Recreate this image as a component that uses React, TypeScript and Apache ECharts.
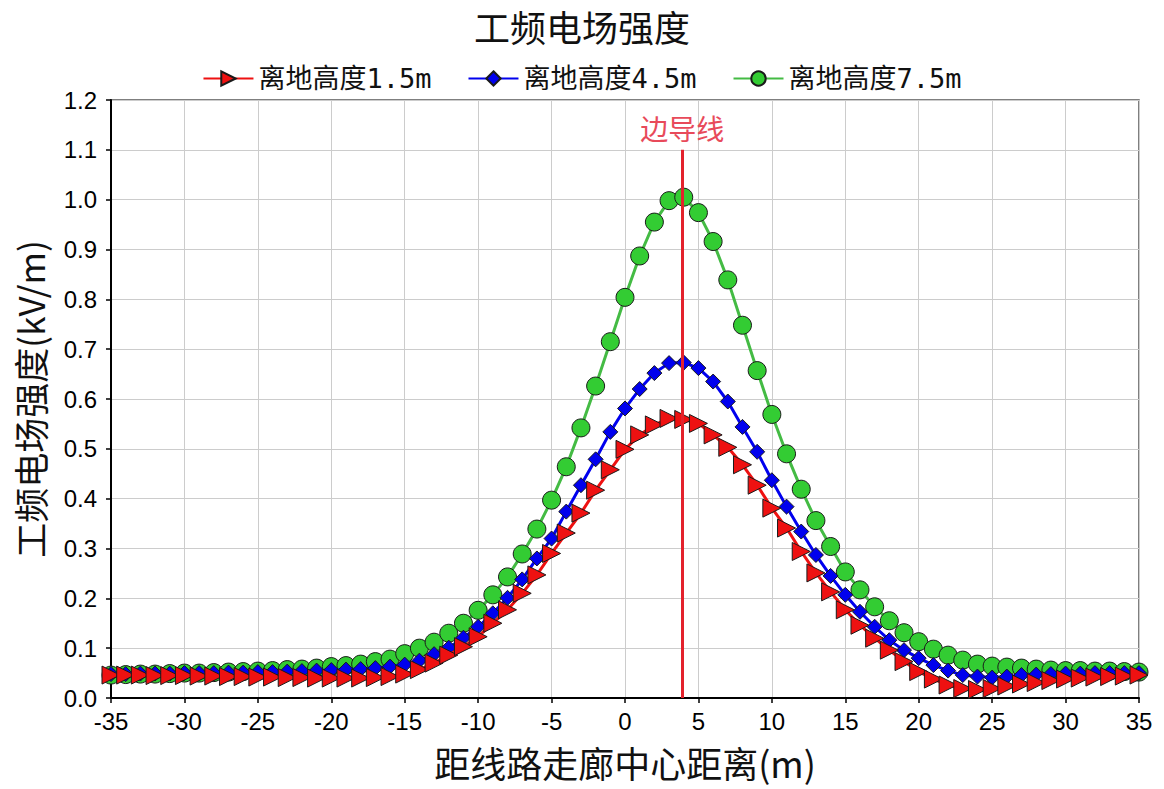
import React, { useEffect, useRef } from "react";
import * as echarts from "echarts";

const distances = [
  -35, -34, -33, -32, -31, -30, -29, -28, -27, -26, -25, -24, -23, -22, -21, -20, -19, -18, -17, -16,
  -15, -14, -13, -12, -11, -10, -9, -8, -7, -6, -5, -4, -3, -2, -1, 0, 1, 2, 3, 4, 5, 6, 7, 8, 9, 10,
  11, 12, 13, 14, 15, 16, 17, 18, 19, 20, 21, 22, 23, 24, 25, 26, 27, 28, 29, 30, 31, 32, 33, 34, 35,
];

const h15 = [
  0.046, 0.046, 0.046, 0.045, 0.045, 0.045, 0.044, 0.044, 0.043, 0.043, 0.042, 0.042, 0.041, 0.041, 0.040, 0.040, 0.040, 0.040, 0.041, 0.043,
  0.048, 0.057, 0.070, 0.086, 0.103, 0.123, 0.150, 0.177, 0.210, 0.247, 0.290, 0.331, 0.371, 0.417, 0.458, 0.499, 0.528, 0.548, 0.561, 0.559, 0.551, 0.528, 0.503, 0.468, 0.427, 0.381,
  0.341, 0.294, 0.251, 0.213, 0.177, 0.146, 0.120, 0.096, 0.073, 0.053, 0.038, 0.026, 0.019, 0.017, 0.019, 0.024, 0.028, 0.031, 0.035, 0.038, 0.040, 0.042, 0.043, 0.044, 0.046,
];

const h45 = [
  0.048, 0.048, 0.049, 0.049, 0.049, 0.050, 0.050, 0.050, 0.051, 0.051, 0.052, 0.052, 0.053, 0.054, 0.055, 0.056, 0.057, 0.058, 0.060, 0.063,
  0.067, 0.075, 0.088, 0.101, 0.121, 0.143, 0.170, 0.201, 0.238, 0.280, 0.320, 0.374, 0.427, 0.479, 0.534, 0.581, 0.620, 0.652, 0.672, 0.673, 0.662, 0.635, 0.595, 0.544, 0.494, 0.437,
  0.384, 0.334, 0.287, 0.245, 0.207, 0.173, 0.143, 0.116, 0.096, 0.080, 0.066, 0.055, 0.046, 0.043, 0.041, 0.043, 0.046, 0.047, 0.048, 0.049, 0.049, 0.050, 0.050, 0.050, 0.050,
];

const h75 = [
  0.046, 0.047, 0.048, 0.048, 0.049, 0.050, 0.050, 0.051, 0.052, 0.053, 0.054, 0.055, 0.057, 0.058, 0.060, 0.063, 0.065, 0.068, 0.073, 0.078,
  0.089, 0.100, 0.112, 0.130, 0.150, 0.176, 0.207, 0.243, 0.289, 0.339, 0.397, 0.464, 0.542, 0.626, 0.715, 0.804, 0.887, 0.955, 0.998, 1.005, 0.974, 0.916, 0.839, 0.748, 0.657, 0.569,
  0.490, 0.419, 0.356, 0.304, 0.253, 0.217, 0.183, 0.155, 0.131, 0.113, 0.098, 0.086, 0.076, 0.068, 0.064, 0.062, 0.060, 0.058, 0.056, 0.055, 0.055, 0.054, 0.054, 0.053, 0.052,
];

const seriesNames = ["离地高度1.5m", "离地高度4.5m", "离地高度7.5m"];
const conductorX = 3.9;
const conductorTop = 1.1;
const conductorLabel = "边导线";

const CJK = "'Noto Sans CJK SC', 'Noto Sans', sans-serif";
const MONO_CJK = "'DejaVu Sans Mono', 'Noto Sans CJK SC', monospace";
const NUM = "'Liberation Sans', Arial, sans-serif";

export default function App() {
  const ref = useRef<HTMLDivElement>(null);

  useEffect(() => {
    if (!ref.current) return;
    const chart = echarts.init(ref.current, undefined, { renderer: "svg" });
    const pairs = (ys: number[]) => distances.map((x, i) => [x, ys[i]]);

    chart.setOption({
      animation: false,
      backgroundColor: "#ffffff",
      title: {
        text: "工频电场强度",
        left: "center",
        top: 3,
        textStyle: { fontFamily: CJK, fontSize: 36, fontWeight: "normal", color: "#111" },
      },
      legend: {
        top: 60,
        left: "center",
        itemWidth: 50,
        itemHeight: 18,
        itemGap: 36,
        data: seriesNames,
        textStyle: { fontFamily: MONO_CJK, fontSize: 27, color: "#111" },
      },
      grid: {
        left: 111,
        right: 25,
        top: 100,
        bottom: 91,
        show: true,
        borderColor: "#555",
        borderWidth: 1.5,
        backgroundColor: "transparent",
      },
      xAxis: {
        type: "value",
        min: -35,
        max: 35,
        interval: 5,
        name: "距线路走廊中心距离(m)",
        nameLocation: "middle",
        nameGap: 46,
        nameTextStyle: { fontFamily: CJK, fontSize: 36, color: "#111" },
        axisLine: { show: true, onZero: false, lineStyle: { color: "#000", width: 2 } },
        axisTick: { show: true, length: 5, lineStyle: { color: "#000", width: 1.5 } },
        axisLabel: { fontFamily: NUM, fontSize: 24, color: "#000", margin: 11 },
        splitLine: { show: true, lineStyle: { color: "#cccccc", width: 1 } },
      },
      yAxis: {
        type: "value",
        min: 0,
        max: 1.2,
        interval: 0.1,
        name: "工频电场强度(kV/m)",
        nameLocation: "middle",
        nameGap: 64,
        nameTextStyle: { fontFamily: CJK, fontSize: 35, color: "#111" },
        axisLine: { show: true, onZero: false, lineStyle: { color: "#000", width: 2 } },
        axisTick: { show: true, length: 5, lineStyle: { color: "#000", width: 1.5 } },
        axisLabel: {
          fontFamily: NUM,
          fontSize: 24,
          color: "#000",
          margin: 14,
          formatter: (v: number) => v.toFixed(1),
        },
        splitLine: { show: true, lineStyle: { color: "#cccccc", width: 1 } },
      },
      series: [
        {
          name: seriesNames[2],
          type: "line",
          z: 2,
          data: pairs(h75),
          symbol: "circle",
          symbolSize: 18,
          showAllSymbol: true,
          lineStyle: { color: "#44bb44", width: 3 },
          itemStyle: { color: "#33cc33", borderColor: "#1a1a1a", borderWidth: 1 },
        },
        {
          name: seriesNames[1],
          type: "line",
          z: 3,
          data: pairs(h45),
          symbol: "diamond",
          symbolSize: 15,
          showAllSymbol: true,
          lineStyle: { color: "#0000ee", width: 3 },
          itemStyle: { color: "#0000ee", borderColor: "#1a1a1a", borderWidth: 1 },
        },
        {
          name: seriesNames[0],
          type: "line",
          z: 4,
          data: pairs(h15),
          symbol: "triangle",
          symbolRotate: -90,
          symbolSize: 18,
          showAllSymbol: true,
          lineStyle: { color: "#ee1111", width: 3 },
          itemStyle: { color: "#ee1111", borderColor: "#1a1a1a", borderWidth: 1 },
          markLine: {
            silent: true,
            symbol: "none",
            z: 10,
            lineStyle: { color: "#e3222c", width: 3, type: "solid" },
            label: {
              show: true,
              position: "end",
              distance: 8,
              formatter: conductorLabel,
              fontFamily: CJK,
              fontSize: 28,
              color: "#e84a5a",
            },
            data: [[{ coord: [conductorX, 0] }, { coord: [conductorX, conductorTop] }]],
          },
        },
      ],
    });

    return () => chart.dispose();
  }, []);

  return (
    <div
      ref={ref}
      style={{ position: "fixed", left: 0, top: 0, width: 1164, height: 789, background: "#fff" }}
    />
  );
}
